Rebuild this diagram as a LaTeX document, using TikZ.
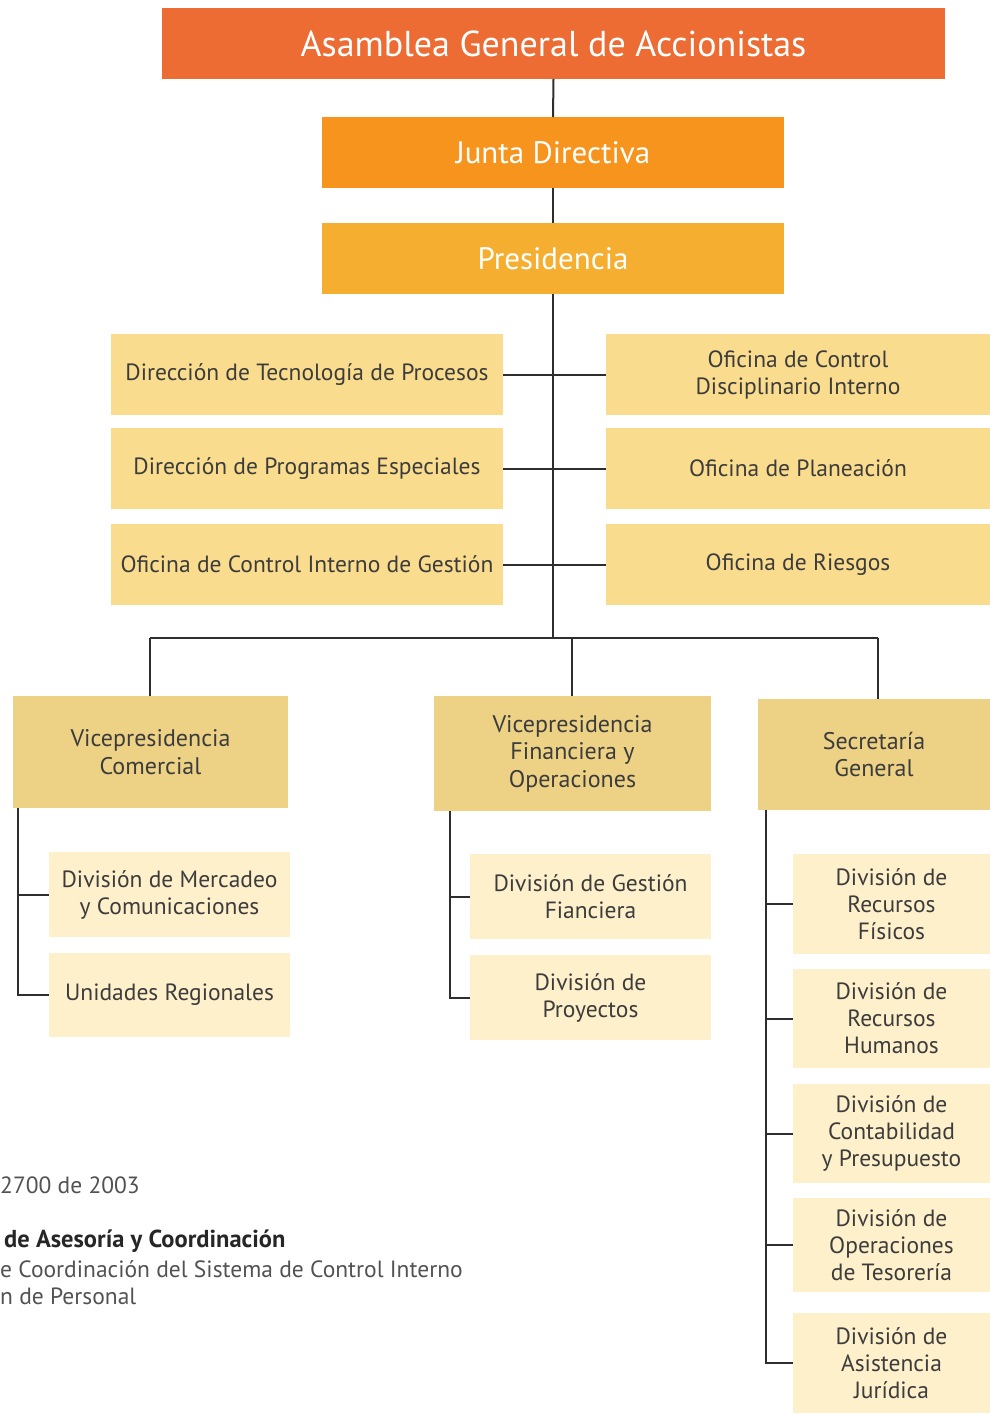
\documentclass[tikz,border=0pt]{standalone}
\usepackage{fontspec}
\setmainfont{PT Sans}
\definecolor{cA}{HTML}{EC6C34}
\definecolor{cJ}{HTML}{F7941D}
\definecolor{cP}{HTML}{F5AE2F}
\definecolor{cS}{HTML}{F9DC8D}
\definecolor{cV}{HTML}{EDD286}
\definecolor{cD}{HTML}{FEF0CB}
\definecolor{tx}{HTML}{3C3C3C}
\definecolor{ln}{HTML}{2E2E2E}
\begin{document}
\begin{tikzpicture}[x=1pt,y=-1pt,
  box/.style={draw=none,inner sep=0pt,outer sep=0pt,align=center,text=tx},
  topbox/.style={box,text=white},
  staff/.style={box,fill=cS,minimum height=81pt,font=\fontsize{23.5}{27}\selectfont},
  vp/.style={box,fill=cV,font=\fontsize{24}{27.5}\selectfont},
  sub/.style={box,fill=cD,font=\fontsize{23.5}{27}\selectfont},
  conn/.style={draw=ln,line width=2pt},
  note/.style={anchor=west,inner sep=0pt,text=black!68,font=\fontsize{23.5}{27}\selectfont}]
\useasboundingbox (0,0) rectangle (990,1414);
% top chain
\node[topbox,fill=cA,minimum width=783pt,minimum height=71pt,font=\fontsize{36}{42}\selectfont] (A) at (553.5,43.5) {Asamblea General de Accionistas};
\node[topbox,fill=cJ,minimum width=462pt,minimum height=71pt,font=\fontsize{31}{36}\selectfont] (J) at (553,152.5) {Junta Directiva};
\node[topbox,fill=cP,minimum width=462pt,minimum height=71pt,font=\fontsize{31}{36}\selectfont] (P) at (553,258.5) {Presidencia};
% staff
\node[staff,minimum width=392pt] (L1) at (307,374.5) {Dirección de Tecnología de Procesos};
\node[staff,minimum width=392pt] (L2) at (307,468.5) {Dirección de Programas Especiales};
\node[staff,minimum width=392pt] (L3) at (307,564.5) {Oficina de Control Interno de Gestión};
\node[staff,minimum width=384pt] (R1) at (798,374.5) {Oficina de Control\\Disciplinario Interno};
\node[staff,minimum width=384pt] (R2) at (798,468.5) {Oficina de Planeación};
\node[staff,minimum width=384pt] (R3) at (798,564.5) {Oficina de Riesgos};
% vps
\node[vp,minimum width=275pt,minimum height=112pt] (VC) at (150.5,752) {Vicepresidencia\\Comercial};
\node[vp,minimum width=277pt,minimum height=115pt] (VF) at (572.5,753.5) {Vicepresidencia\\Financiera y\\Operaciones};
\node[vp,minimum width=232pt,minimum height=111pt] (SG) at (874,754.5) {Secretaría\\General};
% subs
\node[sub,minimum width=241pt,minimum height=85pt] (M1) at (169.5,894.5) {División de Mercadeo\\y Comunicaciones};
\node[sub,minimum width=241pt,minimum height=84pt] (M2) at (169.5,995) {Unidades Regionales};
\node[sub,minimum width=241pt,minimum height=85pt] (G1) at (590.5,896.5) {División de Gestión\\Fianciera};
\node[sub,minimum width=241pt,minimum height=85pt] (G2) at (590.5,997.5) {División de\\Proyectos};
\node[sub,minimum width=197pt,minimum height=100pt] (S1) at (891.5,904) {División de\\Recursos\\Físicos};
\node[sub,minimum width=197pt,minimum height=99pt] (S2) at (891.5,1018.5) {División de\\Recursos\\Humanos};
\node[sub,minimum width=197pt,minimum height=99pt] (S3) at (891.5,1133.5) {División de\\Contabilidad\\y Presupuesto};
\node[sub,minimum width=197pt,minimum height=94pt] (S4) at (891.5,1245) {División de\\Operaciones\\de Tesorería};
\node[sub,minimum width=197pt,minimum height=100pt] (S5) at (891.5,1363) {División de\\Asistencia\\Jurídica};
% connectors
\coordinate (bus) at (553,638);
\coordinate (bl) at (150,638);
\coordinate (bm) at (572,638);
\coordinate (br) at (878,638);
\draw[conn] (A.south) -- (J.north);
\draw[conn] (J.south) -- (P.north);
\draw[conn] (P.south) -- (bus);
\draw[conn] (L1.east) -- (R1.west);
\draw[conn] (L2.east) -- (R2.west);
\draw[conn] (L3.east) -- (R3.west);
\draw[conn] (bl) -- (br);
\draw[conn] (bl) -- (bl |- VC.north);
\draw[conn] (bm) -- (bm |- VF.north);
\draw[conn] (br) -- (br |- SG.north);
\coordinate (sl) at (18,808);
\coordinate (sm) at (450,811);
\coordinate (sr) at (766,810);
\draw[conn] (sl) |- (M2.west);
\draw[conn] (sl |- M1.west) -- (M1.west);
\draw[conn] (sm) |- (G2.west);
\draw[conn] (sm |- G1.west) -- (G1.west);
\draw[conn] (sr) |- (S5.west);
\draw[conn] (sr |- S1.west) -- (S1.west);
\draw[conn] (sr |- S2.west) -- (S2.west);
\draw[conn] (sr |- S3.west) -- (S3.west);
\draw[conn] (sr |- S4.west) -- (S4.west);
% notes
\node[note] (n1) at (0,1185) {2700 de 2003};
\node[note,font=\fontsize{24.5}{28}\selectfont\bfseries,text=black!85] (n2) at (4,1241) {de Asesoría y Coordinación};
\node[note] (n3) at (0,1269) {e Coordinación del Sistema de Control Interno};
\node[note] (n4) at (0,1296) {n de Personal};
\end{tikzpicture}
\end{document}
